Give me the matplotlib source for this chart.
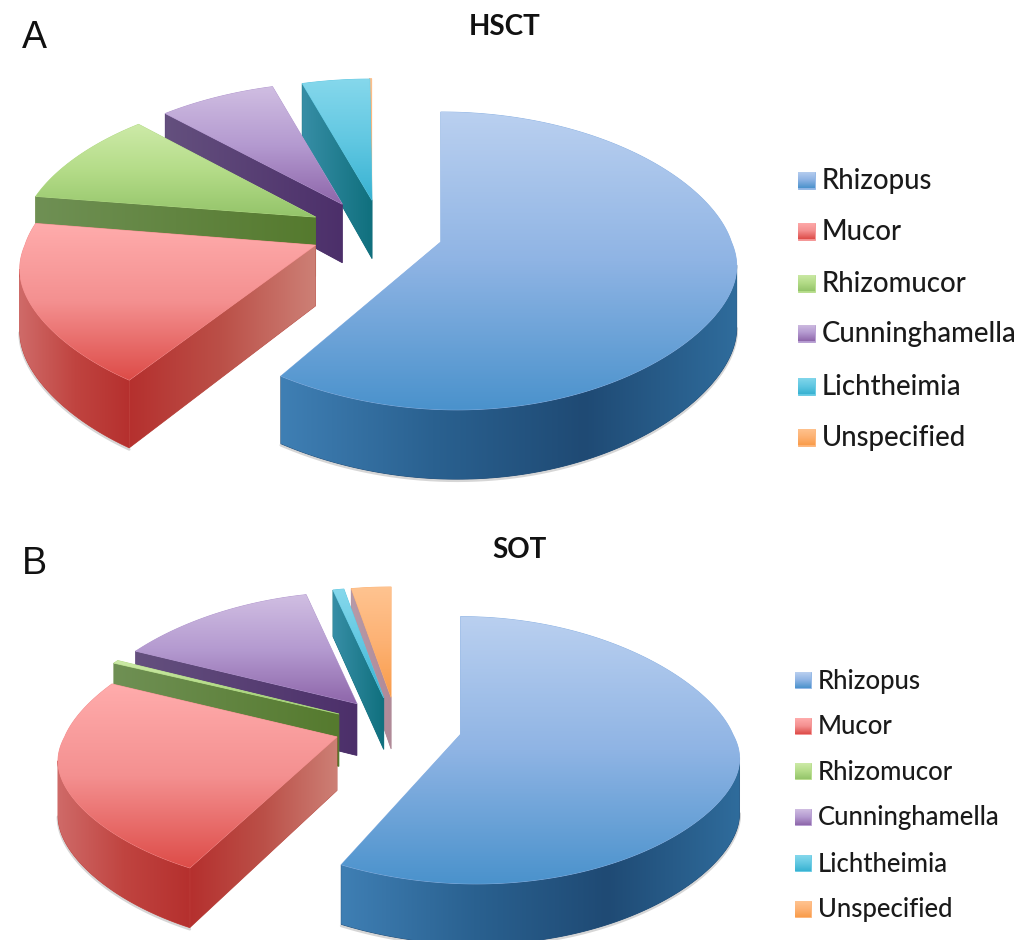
import numpy as np
import matplotlib
matplotlib.use("Agg")
import matplotlib.pyplot as plt
from matplotlib.colors import LinearSegmentedColormap
from matplotlib.patches import PathPatch
from matplotlib.path import Path

categories = ["Rhizopus", "Mucor", "Rhizomucor", "Cunninghamella", "Lichtheimia", "Unspecified"]
hsct_values = [59.7, 17.7, 10.4, 7.6, 4.45, 0.15]
sot_values = [57.7, 24.2, 0.4, 14.0, 0.8, 2.9]

# Extra sideways shift of the small slices, in pixels
hsct_shift = [2, 2, 0, 1, 7, -3]
sot_shift = [1, 1, 0, 0, 0, 0]

# Vertical gradient of each slice's top face, light at the back
top_colors = [
    ["#bad0f0", "#8fb4e4", "#4a92cc"],
    ["#ffacac", "#f49090", "#dd4c48"],
    ["#cdeaa8", "#b4dc88", "#94c46a"],
    ["#d0bee2", "#b49ad0", "#8e66aa"],
    ["#86d8ec", "#62c8e2", "#38b2d2"],
    ["#ffc491", "#fdb274", "#f99c4a"],
]
# Horizontal gradient of each slice's curved wall
arc_colors = [
    ["#3f7fb4", "#2a6190", "#1f4a74", "#2f6c9c"],
    ["#cf6a68", "#c04440", "#b5302e"],
    ["#5f8a34", "#557a2e"],
    ["#5d4474", "#4c2f6a"],
    ["#2f8aa0", "#14707f"],
    ["#c07a60", "#b06a50"],
]
# Horizontal gradient of each slice's flat side wall, outer rim to centre
side_colors = [
    ["#3f7fb4", "#2a6190"],
    ["#b5302e", "#bb5048", "#cd8076"],
    ["#6f9054", "#557a2e"],
    ["#64507e", "#4c2f6a"],
    ["#378ea6", "#10707e"],
    ["#b79aa8", "#b08a98"],
]


def shade(ax, path, colors, horizontal):
    """Fill a path with a linear gradient clipped to its outline."""
    v = path.vertices
    x0, x1, y0, y1 = v[:, 0].min(), v[:, 0].max(), v[:, 1].min(), v[:, 1].max()
    cmap = LinearSegmentedColormap.from_list("face", colors)
    ramp = np.linspace(0, 1, 256)
    ramp = ramp[None, :] if horizontal else ramp[:, None]
    mid = colors[len(colors) // 2]
    base = PathPatch(path, facecolor=mid, edgecolor=mid, lw=0.6, zorder=1)
    ax.add_patch(base)
    im = ax.imshow(ramp, cmap=cmap, extent=(x0, x1, y1, y0), origin="upper", aspect="auto",
                   interpolation="bilinear", zorder=1)
    im.set_clip_path(PathPatch(path, transform=ax.transData))


def soft_floor(x, floor, width=0.12):
    """Smooth version of max(x, floor)."""
    return floor + width * np.logaddexp(0.0, (x - floor) / width)


def draw_pie(ax, values, shifts, center, rx, ry, kx, ky, explode, depth, splay):
    """Exploded perspective pie; slices run clockwise from twelve o'clock."""
    cx, cy = center
    stops = np.radians(np.concatenate([[0.0], np.cumsum(values) / np.sum(values) * 360.0]))
    order = sorted(range(len(values)), key=lambda i: -np.cos((stops[i] + stops[i + 1]) / 2))

    # Paint from the back of the pie towards the viewer
    for i in order:
        a0, a1 = stops[i], stops[i + 1]
        mid = (a0 + a1) / 2
        ou, ov = explode * np.sin(mid), explode * np.cos(mid)
        ox = cx + rx * ou + shifts[i]

        def rim(a):
            lu, lv = np.sin(a), np.cos(a)
            wy = 1.0 / (1.0 + ky * (ov + lv))
            wx = 1.0 / (1.0 + kx * soft_floor(lv, -0.18))
            # slices nearer the viewer spread apart sideways
            spread = splay * ou * np.maximum(-lv, 0.0)
            return ox + rx * lu * wx + spread, cy - ry * (ov + lv) * wy, wy

        apex_w = 1.0 / (1.0 + ky * ov)
        apex = (ox, cy - ry * ov * apex_w, apex_w)
        arc = np.linspace(a0, a1, 240)
        ax_, ay_, aw_ = rim(arc)

        # flat wall along the leading edge, when it faces the viewer
        if np.sin(a0) < -1e-3:
            sx, sy, sw = rim(a0)
            pts = [(sx, sy), (apex[0], apex[1]),
                   (apex[0], apex[1] + depth * apex[2]), (sx, sy + depth * sw), (sx, sy)]
            shade(ax, Path(pts, closed=True), side_colors[i], True)

        # curved wall between the rim's widest points on the near side
        idx = np.flatnonzero(np.cos(arc) < 0.3)
        if idx.size:
            first, last = idx[0], idx[-1]
            if np.sin(arc[first]) > 0:
                first = first + np.argmax(ax_[first:last + 1])
            if np.sin(arc[last]) < 0:
                last = first + np.argmin(ax_[first:last + 1])
            if last - first > 1:
                fx, fy, fw = ax_[first:last + 1], ay_[first:last + 1], aw_[first:last + 1]
                low = fy + depth * fw
                ax.plot(fx, low + 1.5, color="#8a8a8a", lw=2.0, alpha=0.35, solid_capstyle="round", zorder=1)
                pts = np.column_stack([np.r_[fx, fx[::-1]], np.r_[fy, low[::-1]]])
                shade(ax, Path(np.vstack([pts, pts[:1]]), closed=True), arc_colors[i], True)

        # top face
        pts = np.column_stack([np.r_[apex[0], ax_, apex[0]], np.r_[apex[1], ay_, apex[1]]])
        shade(ax, Path(pts, closed=True), top_colors[i], False)


def draw_legend(ax, x, ys, box, text_x, size):
    for name, y, cols in zip(categories, ys, top_colors):
        verts = [(x, y - box / 2), (x + box, y - box / 2), (x + box, y + box / 2), (x, y + box / 2), (x, y - box / 2)]
        shade(ax, Path(verts, closed=True), cols, False)
        ax.text(text_x, y + 1, name, va="center", ha="left", fontsize=size, family="Lato",
                fontweight="medium", color="#1a1a1a")


fig = plt.figure(figsize=(10.22, 9.40), dpi=100)
ax = fig.add_axes([0, 0, 1, 1])

draw_pie(ax, hsct_values, hsct_shift, (375, 232), 292, 144, 0.20, 0.126, 0.229, 60, 75)
draw_pie(ax, sot_values, sot_shift, (397, 727), 274, 130, 0.25, 0.118, 0.235, 53, 70)

draw_legend(ax, 798, [180, 231, 283, 333, 386, 437], 17, 822, 19.8)
draw_legend(ax, 795, [680, 726, 771, 817, 863, 909], 16, 818, 18.5)

ax.text(505, 27, "HSCT", ha="center", va="center", fontsize=20, fontweight="bold", family="Lato", color="#111111")
ax.text(519, 550, "SOT", ha="center", va="center", fontsize=20, fontweight="bold", family="Lato", color="#111111")
ax.text(22, 38, "A", ha="left", va="center", fontsize=27, family="Liberation Sans", color="#111111")
ax.text(22, 564, "B", ha="left", va="center", fontsize=27, family="Liberation Sans", color="#111111")

ax.set_xlim(0, 1022)
ax.set_ylim(940, 0)
ax.axis("off")
fig.savefig("out.png", dpi=100)
